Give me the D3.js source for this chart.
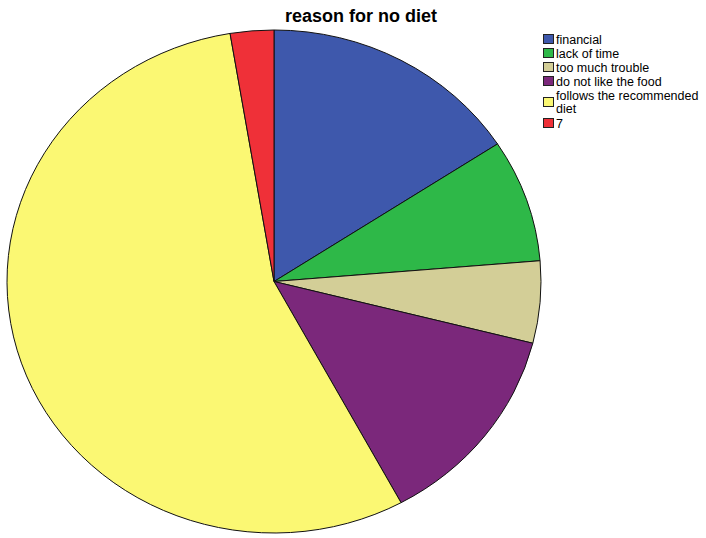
<!DOCTYPE html>
<html>
<head>
<meta charset="utf-8">
<script src="https://cdn.jsdelivr.net/npm/d3@7"></script>
<style>
  body { margin: 0; background: #fff; }
  svg { display: block; font-family: Arial, "Liberation Sans", sans-serif; }
</style>
</head>
<body>
<svg id="chart" width="706" height="538"></svg>
<script>
// Reasons for not following a diet (respondent counts)
const categories = ["financial", "lack of time", "too much trouble", "do not like the food", "follows the recommended diet", "7"];
const counts = [6, 3, 2, 5, 21, 1];
const colors = ["#3e58ac", "#2eb848", "#d3ce97", "#7b287b", "#fbf873", "#ef3038"];
const legendLines = [["financial"], ["lack of time"], ["too much trouble"], ["do not like the food"], ["follows the recommended", "diet"], ["7"]];

const svg = d3.select("#chart");

// Pie geometry: slightly flattened ellipse
const cx = 274, cy = 281.5, rx = 267, ry = 251.5;

svg.append("text")
  .attr("x", 361).attr("y", 22)
  .attr("text-anchor", "middle")
  .attr("font-size", 18).attr("font-weight", "bold")
  .attr("fill", "#000")
  .text("reason for no diet");

const pie = d3.pie().sort(null).value(d => d)(counts);
const arc = d3.arc().innerRadius(0).outerRadius(rx);

const g = svg.append("g")
  .attr("transform", `translate(${cx},${cy}) scale(1,${ry / rx})`);

g.selectAll("path")
  .data(pie)
  .join("path")
  .attr("d", arc)
  .attr("fill", (d, i) => colors[i])
  .attr("stroke", "#111")
  .attr("stroke-width", 1)
  .attr("vector-effect", "non-scaling-stroke");

// Legend
const rowY = d3.scaleOrdinal().domain(d3.range(6)).range([39, 53, 67, 81, 95, 123]);
const legend = svg.append("g");
const items = legend.selectAll("g")
  .data(categories)
  .join("g")
  .attr("transform", (d, i) => `translate(543,${rowY(i)})`);

items.append("rect")
  .attr("x", 0.5)
  .attr("y", (d, i) => (i === 4 ? 7 : 0) - 4.5)
  .attr("width", 10).attr("height", 9)
  .attr("fill", (d, i) => colors[i])
  .attr("stroke", "#222").attr("stroke-width", 1);

items.each(function(d, i) {
  const t = d3.select(this).append("text")
    .attr("x", 13).attr("y", 4.5)
    .attr("font-size", 12.5).attr("fill", "#000");
  legendLines[i].forEach((line, k) => {
    t.append("tspan").attr("x", 13).attr("dy", k === 0 ? 0 : 13).text(line);
  });
});
</script>
</body>
</html>
